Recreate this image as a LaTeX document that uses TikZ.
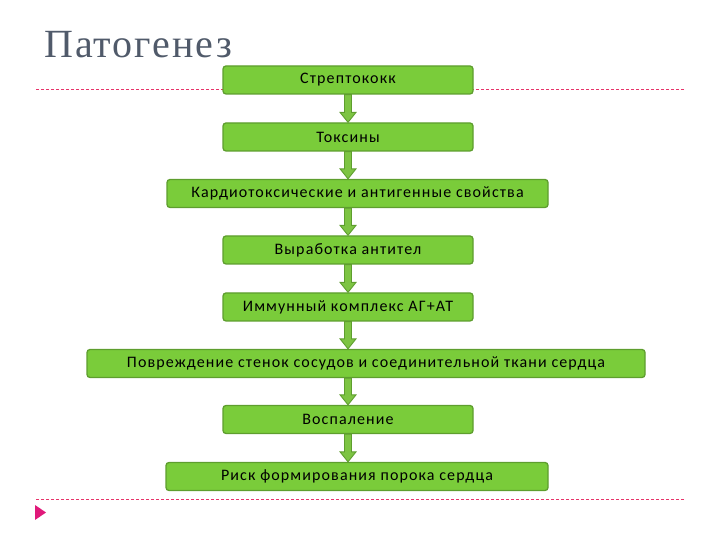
\documentclass[tikz,border=0pt]{standalone}
\usepackage{fontspec}
\setmainfont{Carlito}[LetterSpace=7]
\newfontfamily\titlefont{Liberation Serif}[LetterSpace=5]
\usetikzlibrary{calc}
\definecolor{boxfill}{HTML}{7ACC3A}
\definecolor{boxline}{HTML}{5E9E2E}
\definecolor{arrfill}{HTML}{7DC443}
\definecolor{dashcol}{HTML}{E8336A}
\definecolor{titlecol}{HTML}{505A6A}
\definecolor{marker}{HTML}{E0197A}
\tikzset{
  stepbox/.style={draw=boxline, fill=boxfill, line width=1.3pt, rounded corners=3pt,
    minimum height=28pt, inner sep=0pt, font=\fontsize{16}{18}\selectfont, text=black},
  flowarr/.style={draw=boxline, fill=arrfill, line width=0.9pt, line join=miter},
  sepline/.style={draw=dashcol, dash pattern=on 3pt off 2pt, line width=0.7pt}
}
\newcommand{\flowarrow}[2]{%
  \path[flowarr] let \p1=(#1.south -| axis), \p2=(#2.north -| axis) in
    (\x1-3.5pt,\y1) -- (\x1+3.5pt,\y1) -- (\x1+3.5pt,\y2+10pt) -- (\x1+8pt,\y2+10pt)
    -- (\x1,\y2) -- (\x1-8pt,\y2+10pt) -- (\x1-3.5pt,\y2+10pt) -- cycle;}
\begin{document}
\begin{tikzpicture}[x=1pt,y=1pt]
\useasboundingbox (0,0) rectangle (720,540);
\coordinate (axis) at (348,0);
% title
\node[anchor=base west, text=titlecol, font=\titlefont\fontsize{40}{44}\selectfont, inner sep=0pt] (title) at (44,482) {Патогенез};
% separator lines
\coordinate (tl) at (36,451);
\coordinate (tr) at (685,451);
\coordinate (bl) at (36,41);
\coordinate (br) at (685,41);
\draw[sepline] (tl) -- (tr);
\draw[sepline] (bl) -- (br);
% marker
\fill[marker] (35,35) -- (46,27.5) -- (35,20) -- cycle;
% boxes
\node[stepbox, minimum width=250pt] (b1) at (348,460) {Стрептококк};
\node[stepbox, minimum width=250pt] (b2) at (348,403) {Токсины};
\node[stepbox, minimum width=381pt] (b3) at (357.5,346.5) {Кардиотоксические и антигенные свойства};
\node[stepbox, minimum width=250pt] (b4) at (348,290) {Выработка антител};
\node[stepbox, minimum width=250pt] (b5) at (348,233) {Иммунный комплекс АГ+АТ};
\node[stepbox, minimum width=558pt] (b6) at (366,176.5) {Повреждение стенок сосудов и соединительной ткани сердца};
\node[stepbox, minimum width=250pt] (b7) at (348,120.5) {Воспаление};
\node[stepbox, minimum width=382pt] (b8) at (357,63.5) {Риск формирования порока сердца};
% arrows
\flowarrow{b1}{b2}
\flowarrow{b2}{b3}
\flowarrow{b3}{b4}
\flowarrow{b4}{b5}
\flowarrow{b5}{b6}
\flowarrow{b6}{b7}
\flowarrow{b7}{b8}
\end{tikzpicture}
\end{document}
